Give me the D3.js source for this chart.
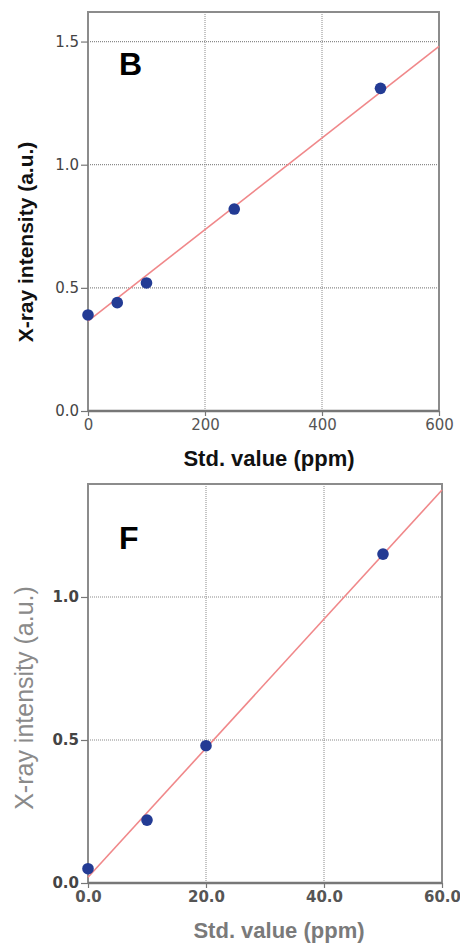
<!DOCTYPE html>
<html>
<head>
<meta charset="utf-8">
<script src="https://cdn.jsdelivr.net/npm/d3@7"></script>
<style>
  body { margin: 0; background: #fff; }
  svg { display: block; }
</style>
</head>
<body>
<div id="chart"></div>
<script>
// panel B
const bStd = [0, 50, 100, 250, 500];
const bIntensity = [0.39, 0.44, 0.52, 0.82, 1.31];
const bFitX = [0, 600];
const bFitY = [0.365, 1.48];
const bXTicks = [0, 200, 400, 600];
const bYTicks = [0.0, 0.5, 1.0, 1.5];

// panel F
const fStd = [0, 10, 20, 50];
const fIntensity = [0.05, 0.22, 0.48, 1.15];
const fFitX = [0, 60];
const fFitY = [0.02, 1.374];
const fXTicks = [0, 20, 40, 60];
const fYTicks = [0.0, 0.5, 1.0];

const svg = d3.select('#chart').append('svg')
    .attr('width', 460)
    .attr('height', 945);

function drawPanel(cfg) {
    const x = d3.scaleLinear().domain(cfg.xDomain).range([cfg.left, cfg.right]);
    const y = d3.scaleLinear().domain(cfg.yDomain).range([cfg.bottom, cfg.top]);
    const g = svg.append('g');

    // grid
    g.selectAll('line.vgrid')
        .data(cfg.xTicks.slice(1, -1))
        .join('line')
        .attr('class', 'vgrid')
        .attr('x1', d => x(d)).attr('x2', d => x(d))
        .attr('y1', cfg.top).attr('y2', cfg.bottom)
        .attr('stroke', '#8a8a8a')
        .attr('stroke-width', 1)
        .attr('stroke-dasharray', '1,1');

    g.selectAll('line.hgrid')
        .data(cfg.yTicks.filter(d => d > 0))
        .join('line')
        .attr('class', 'hgrid')
        .attr('x1', cfg.left).attr('x2', cfg.right)
        .attr('y1', d => y(d)).attr('y2', d => y(d))
        .attr('stroke', '#8a8a8a')
        .attr('stroke-width', 1.2)
        .attr('stroke-dasharray', '1,1');

    // frame
    g.append('rect')
        .attr('x', cfg.left).attr('y', cfg.top)
        .attr('width', cfg.right - cfg.left)
        .attr('height', cfg.bottom - cfg.top)
        .attr('fill', 'none')
        .attr('stroke', '#8c8c8c')
        .attr('stroke-width', 2);

    g.append('line')
        .attr('x1', cfg.left).attr('x2', cfg.right)
        .attr('y1', cfg.bottom).attr('y2', cfg.bottom)
        .attr('stroke', '#777')
        .attr('stroke-width', 2.5);

    // y axis ticks
    const yAxis = d3.axisLeft(y)
        .tickValues(cfg.yTicks)
        .tickSize(7)
        .tickPadding(2)
        .tickFormat(d3.format('.1f'));
    const ya = g.append('g')
        .attr('transform', `translate(${cfg.left},0)`)
        .call(yAxis);
    ya.select('.domain').remove();
    ya.selectAll('line').attr('stroke', '#777').attr('stroke-width', 1.2);
    ya.selectAll('text')
        .attr('fill', '#444')
        .attr('font-family', 'DejaVu Sans, sans-serif')
        .attr('font-size', 15)
        .attr('font-weight', cfg.tickWeight);

    // x axis ticks
    const xAxis = d3.axisBottom(x)
        .tickValues(cfg.xTicks)
        .tickSize(5)
        .tickPadding(3)
        .tickFormat(cfg.xFormat);
    const xa = g.append('g')
        .attr('transform', `translate(0,${cfg.bottom})`)
        .call(xAxis);
    xa.select('.domain').remove();
    xa.selectAll('line').attr('stroke', '#777').attr('stroke-width', 1.2);
    xa.selectAll('text')
        .attr('fill', '#555')
        .attr('font-family', 'DejaVu Sans, sans-serif')
        .attr('font-size', 15)
        .attr('font-weight', cfg.tickWeight);

    // fit line
    g.append('path')
        .datum(d3.zip(cfg.fitX, cfg.fitY))
        .attr('d', d3.line().x(d => x(d[0])).y(d => y(d[1])))
        .attr('fill', 'none')
        .attr('stroke', '#f0888a')
        .attr('stroke-width', 1.6);

    // points
    g.selectAll('circle')
        .data(d3.zip(cfg.xs, cfg.ys))
        .join('circle')
        .attr('cx', d => x(d[0]))
        .attr('cy', d => y(d[1]))
        .attr('r', 5.8)
        .attr('fill', '#233b94');

    // panel letter
    g.append('text')
        .attr('x', cfg.left + 31)
        .attr('y', cfg.letterY)
        .attr('font-family', 'Liberation Sans, Arial, sans-serif')
        .attr('font-weight', 'bold')
        .attr('font-size', 32)
        .attr('fill', '#000')
        .text(cfg.letter);

    // axis titles
    g.append('text')
        .attr('x', cfg.xTitleX)
        .attr('y', cfg.bottom + 55)
        .attr('text-anchor', 'middle')
        .attr('font-family', 'Liberation Sans, Arial, sans-serif')
        .attr('font-weight', 'bold')
        .attr('font-size', 22)
        .attr('fill', cfg.titleColor)
        .text('Std. value (ppm)');

    g.append('text')
        .attr('transform', `translate(33,${cfg.yTitleY}) rotate(-90)`)
        .attr('text-anchor', 'middle')
        .attr('font-family', 'Liberation Sans, Arial, sans-serif')
        .attr('font-weight', cfg.yTitleWeight)
        .attr('font-size', cfg.yTitleSize)
        .attr('fill', cfg.yTitleColor)
        .text('X-ray intensity (a.u.)');
}

drawPanel({
    left: 88, right: 439, top: 12, bottom: 411,
    xDomain: [0, 600], yDomain: [0, 1.62],
    xTicks: bXTicks, yTicks: bYTicks,
    xFormat: d3.format('d'),
    xs: bStd, ys: bIntensity, fitX: bFitX, fitY: bFitY,
    letter: 'B', letterY: 75,
    tickWeight: 'normal',
    xTitleX: 269,
    titleColor: '#111', yTitleColor: '#111', yTitleWeight: 'bold', yTitleSize: 21,
    yTitleY: 242
});

drawPanel({
    left: 88, right: 442, top: 484, bottom: 883,
    xDomain: [0, 60], yDomain: [0, 1.395],
    xTicks: fXTicks, yTicks: fYTicks,
    xFormat: d3.format('.1f'),
    xs: fStd, ys: fIntensity, fitX: fFitX, fitY: fFitY,
    letter: 'F', letterY: 549,
    tickWeight: 'bold',
    xTitleX: 279,
    titleColor: '#7a7a7a', yTitleColor: '#8a8a8a', yTitleWeight: 'normal', yTitleSize: 25,
    yTitleY: 698
});
</script>
</body>
</html>
